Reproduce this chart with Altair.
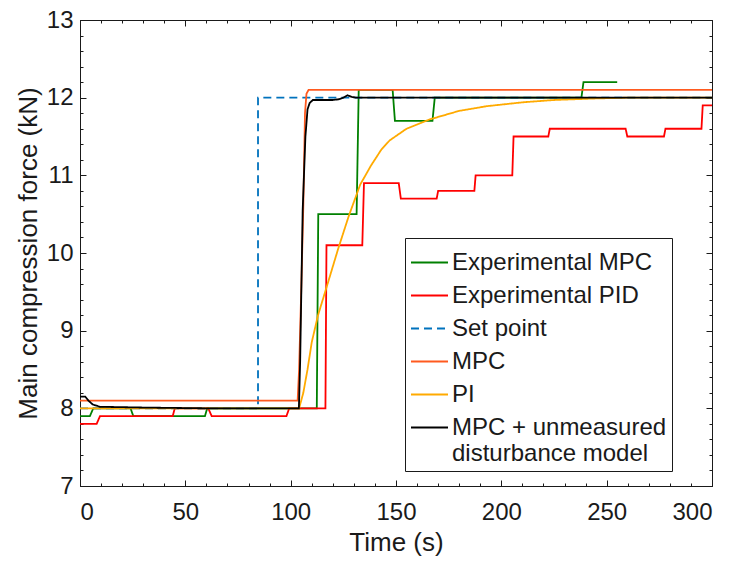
import altair as alt
import pandas as pd

# ---------------- data ----------------
series_names = ["Experimental MPC", "Experimental PID", "Set point", "MPC", "PI",
                "MPC + unmeasured disturbance model"]
series_colors = ["#008000", "#FF0000", "#0072BD", "#FF5A1F", "#FFAA00", "#000000"]
series_dashes = [[1, 0], [1, 0], [8, 5], [1, 0], [1, 0], [1, 0]]

exp_mpc_t = [0, 4.7, 6.3, 24.0, 25.3, 59.3, 60.4, 112.4, 113.1, 131.3, 132.3, 148.4, 149.5,
             167.3, 168.4, 238.0, 239.0, 255.0]
exp_mpc_v = [7.9, 7.9, 8.0, 8.0, 7.9, 7.9, 8.0, 8.0, 10.5, 10.5, 12.1, 12.1, 11.7,
             11.7, 12.0, 12.0, 12.2, 12.2]

exp_pid_t = [0, 7.9, 9.5, 44.0, 45.0, 60.9, 62.5, 98.0, 99.3, 116.5, 117.0, 134.0, 134.8,
             151.3, 152.3, 169.3, 170.0, 187.2, 187.8, 205.2, 205.8, 222.3, 223.0, 259.0,
             259.8, 277.2, 277.9, 295.0, 295.6, 300.0]
exp_pid_v = [7.8, 7.8, 7.9, 7.9, 8.0, 8.0, 7.9, 7.9, 8.0, 8.0, 10.1, 10.1, 10.9,
             10.9, 10.7, 10.7, 10.8, 10.8, 11.0, 11.0, 11.5, 11.5, 11.6, 11.6,
             11.5, 11.5, 11.6, 11.6, 11.9, 11.9]

setpoint_t = [0, 84.5, 84.5, 300]
setpoint_v = [8.0, 8.0, 12.0, 12.0]

mpc_t = [0, 103.3, 104.0, 105.0, 106.0, 106.8, 107.5, 108.5, 300]
mpc_v = [8.1, 8.1, 8.5, 9.5, 10.6, 11.8, 12.05, 12.1, 12.1]

pi_t = [0, 104.0, 106.0, 108.0, 110.0, 113.0, 117.5, 122.5, 127.5, 133.0, 138.0, 143.0,
        147.0, 155.0, 166.0, 180.0, 193.0, 210.0, 225.0, 245.0, 260.0, 300.0]
pi_v = [8.0, 8.0, 8.2, 8.5, 8.85, 9.2, 9.6, 10.05, 10.47, 10.88, 11.12, 11.33,
        11.45, 11.6, 11.72, 11.83, 11.89, 11.94, 11.97, 11.99, 12.0, 12.0]

dist_t = [0, 2.5, 4.0, 6.0, 9.5, 30.0, 60.0, 103.9, 104.5, 105.7, 107.0, 108.0, 109.0,
          110.5, 120.0, 123.0, 125.0, 127.0, 129.0, 131.0, 300.0]
dist_v = [8.15, 8.15, 8.1, 8.05, 8.02, 8.01, 8.0, 8.0, 8.6, 10.55, 11.5, 11.85, 11.93,
          11.97, 11.97, 11.98, 12.0, 12.03, 12.01, 12.0, 12.0]

x_major = [0, 50, 100, 150, 200, 250, 300]
x_minor = list(range(0, 301, 10))
y_major = [7, 8, 9, 10, 11, 12, 13]
y_minor = [round(7 + 0.2 * k, 1) for k in range(31)]

# ---------------- table ----------------
rows = []
for name, ts, vs in zip(series_names,
                        [exp_mpc_t, exp_pid_t, setpoint_t, mpc_t, pi_t, dist_t],
                        [exp_mpc_v, exp_pid_v, setpoint_v, mpc_v, pi_v, dist_v]):
    for i, (t, v) in enumerate(zip(ts, vs)):
        rows.append({"series": name, "t": t, "v": v, "i": i})
df = pd.DataFrame(rows)

FONT = "Liberation Sans"
INK = "#1a1a1a"
xscale = alt.Scale(domain=[0, 300], nice=False, zero=False)
yscale = alt.Scale(domain=[7, 13], nice=False, zero=False)

legend = alt.Legend(
    orient="none", legendX=325, legendY=218, title=None,
    labelExpr="datum.label == 'MPC + unmeasured disturbance model' ? "
              "['MPC + unmeasured', 'disturbance model'] : datum.label",
)

lines = alt.Chart(df).mark_line(strokeWidth=1.8, clip=True).encode(
    x=alt.X("t:Q", scale=xscale, axis=alt.Axis(
        orient="bottom", values=x_major, offset=-6, tickSize=6, domain=False, grid=False,
        labelFontSize=24, labelPadding=14, labelColor=INK, tickColor=INK, format="d",
        title="Time (s)", titleFontSize=26, titleFontWeight="normal", titleColor=INK,
        titleX=316, titleY=70, titleBaseline="alphabetic", titleAlign="center")),
    y=alt.Y("v:Q", scale=yscale, axis=alt.Axis(
        orient="left", values=y_major, offset=-6, tickSize=6, domain=False, grid=False,
        labelFontSize=24, labelPadding=7, labelColor=INK, tickColor=INK, format="d",
        title="Main compression force (kN)", titleFontSize=26, titleFontWeight="normal",
        titleColor=INK, titleX=-50, titleY=233, titleAngle=-90,
        titleBaseline="alphabetic", titleAlign="center")),
    color=alt.Color("series:N", sort=series_names,
                    scale=alt.Scale(domain=series_names, range=series_colors), legend=legend),
    strokeDash=alt.StrokeDash("series:N", sort=series_names,
                              scale=alt.Scale(domain=series_names, range=series_dashes),
                              legend=legend),
    order="i:Q",
)


def tick_layer(xorient, yorient, xvals, yvals, size):
    return alt.Chart(df).mark_point(opacity=0).encode(
        x=alt.X("t:Q", scale=xscale, axis=alt.Axis(
            orient=xorient, values=xvals, offset=-size, tickSize=size, domain=False,
            grid=False, labels=False, title=None, tickColor=INK)),
        y=alt.Y("v:Q", scale=yscale, axis=alt.Axis(
            orient=yorient, values=yvals, offset=-size, tickSize=size, domain=False,
            grid=False, labels=False, title=None, tickColor=INK)),
    )


chart = alt.layer(
    lines,
    tick_layer("bottom", "left", x_minor, y_minor, 3),
    tick_layer("top", "right", x_major, y_major, 6),
    tick_layer("top", "right", x_minor, y_minor, 3),
).resolve_axis(x="independent", y="independent").properties(
    width=632, height=466,
    autosize=alt.AutoSizeParams(type="none"),
    padding={"left": 80, "top": 20, "right": 23, "bottom": 77},
).configure(font=FONT).configure_view(stroke=INK, strokeWidth=1).configure_legend(
    strokeColor=INK, fillColor="white", padding=5, labelFontSize=24, labelColor=INK,
    labelFont=FONT, symbolType="stroke", symbolSize=1369, symbolStrokeWidth=2,
    labelOffset=3, rowPadding=1, labelLimit=400, cornerRadius=0,
)

chart.save("out.html", embed_options={"renderer": "svg", "actions": False})
